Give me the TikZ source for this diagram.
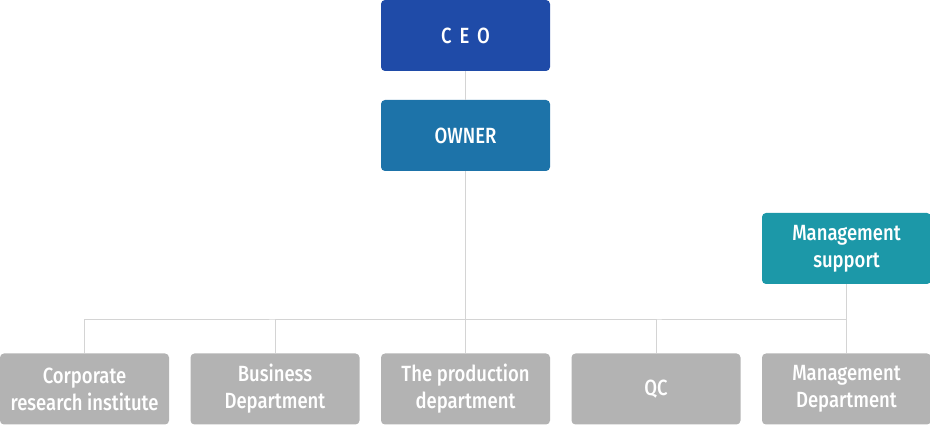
\documentclass[tikz,border=0pt]{standalone}
\usepackage{fontspec}
\setmainfont{Fira Sans}[UprightFont=* Medium, FakeStretch=0.84]
\usepackage{tikz}
\usetikzlibrary{positioning,calc}
\definecolor{ceoblue}{HTML}{1F4BA8}
\definecolor{ownerblue}{HTML}{1D73A9}
\definecolor{supportteal}{HTML}{1C98A8}
\definecolor{deptgray}{HTML}{B3B3B3}
\definecolor{linkgray}{HTML}{D4D4D4}
\tikzstyle{link}=[draw,linkgray,line width=1pt]
\tikzstyle{unit} =
  [rectangle, text=white, align=center, rounded corners=4pt,
   minimum width=169pt, minimum height=71pt, inner sep=0pt,
   font=\fontsize{22}{27}\selectfont]
\tikzstyle{dept} = [unit, fill=deptgray]

\begin{document}
\begin{tikzpicture}[x=1pt, y=1pt, node distance = 190.5pt]
  \useasboundingbox (0,0) rectangle (930,426);
  \node [unit, fill=ceoblue] (ceo) at (465.5,390.5)
    {\addfontfeature{LetterSpace=36}CEO};
  \node [unit, fill=ownerblue, below of=ceo, node distance=100pt] (owner) {OWNER};
  \node [dept, below of=owner, node distance=253.5pt] (prod) {The production\\department};
  \node [dept, left of=prod] (biz) {Business\\Department};
  \node [dept, left of=biz] (corp) {Corporate\\research institute};
  \node [dept, right of=prod] (qc) {QC};
  \node [dept, right of=qc] (mgmt) {Management\\Department};
  \node [unit, fill=supportteal, above of=mgmt, node distance=140.5pt] (support)
    {Management\\support};
  \coordinate (bus) at (465.5,106);

  \draw [link] (ceo) to (owner);
  \draw [link] (owner) to (prod);
  \draw [link] (support) to (mgmt);
  \draw [link] (corp.north) |- (bus) -| (mgmt.north);
  \draw [link] (biz.north) |- (bus);
  \draw [link] (qc.north) |- (bus);
\end{tikzpicture}
\end{document}
